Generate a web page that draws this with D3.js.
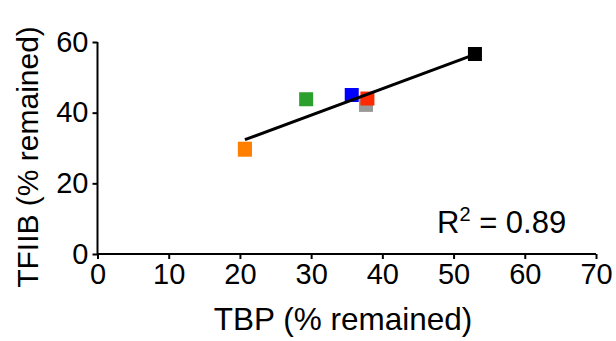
<!DOCTYPE html>
<html>
<head>
<meta charset="utf-8">
<script src="https://cdn.jsdelivr.net/npm/d3@7"></script>
<style>
html,body{margin:0;padding:0;background:#fff;}
svg text{font-family:"Liberation Sans",Arial,sans-serif;fill:#000;}
</style>
</head>
<body>
<svg id="chart" width="616" height="341"></svg>
<script>
const labels = ["orange","green","blue","gray","red","black"];
const tbp    = [20.7, 29.3, 35.7, 37.7, 37.9, 53.0];
const tfiib  = [29.8, 43.8, 45.0, 42.2, 44.0, 56.6];
const colors = ["#ff7f00","#2ca02c","#0000ff","#999999","#ff2a00","#000000"];
const xTicks = [0,10,20,30,40,50,60,70];
const yTicks = [0,20,40,60];
const r2Label = "0.89";

const svg = d3.select("#chart");
const x = d3.scaleLinear().domain([0,70]).range([97.5,596]);
const y = d3.scaleLinear().domain([0,60]).range([254,42]);

const xAxis = svg.append("g").attr("transform","translate(0,254)")
  .call(d3.axisBottom(x).tickValues(xTicks).tickSize(5).tickSizeOuter(0).tickPadding(4));
const yAxis = svg.append("g").attr("transform","translate(97.5,0)")
  .call(d3.axisLeft(y).tickValues(yTicks).tickSize(5).tickSizeOuter(0).tickPadding(4));
[xAxis,yAxis].forEach(a=>{
  a.selectAll("path,line").attr("stroke","#000").attr("stroke-width",2);
  a.selectAll("text").style("font-size","29px").attr("fill","#000");
});
xAxis.select(".domain").attr("d","M97.5,0H596");
yAxis.select(".domain").attr("d","M0,42V254");

// regression line computed from the data
const n = tbp.length;
const mx = d3.mean(tbp), my = d3.mean(tfiib);
let sxy=0,sxx=0;
for(let i=0;i<n;i++){sxy+=(tbp[i]-mx)*(tfiib[i]-my);sxx+=(tbp[i]-mx)**2;}
const b = sxy/sxx, a = my-b*mx;
const x0 = d3.min(tbp), x1 = d3.max(tbp);

const s = 14;
const pts = svg.append("g");
const order = [0,1,3,2,4];
order.forEach(i=>{
  pts.append("rect").attr("x",x(tbp[i])-s/2).attr("y",y(tfiib[i])-s/2)
    .attr("width",s).attr("height",s).attr("fill",colors[i]);
});
svg.append("line")
  .attr("x1",x(x0)).attr("y1",y(a+b*x0)).attr("x2",x(x1)).attr("y2",y(a+b*x1))
  .attr("stroke","#000").attr("stroke-width",3);
svg.append("rect").attr("x",x(tbp[5])-s/2).attr("y",y(tfiib[5])-s/2)
  .attr("width",s).attr("height",s).attr("fill",colors[5]);
svg.append("rect").attr("x",x(tbp[0])-s/2).attr("y",y(tfiib[0])-s/2+1)
  .attr("width",s).attr("height",s).attr("fill",colors[0]);

const t = svg.append("text").attr("x",437).attr("y",233).style("font-size","31px");
t.append("tspan").text("R");
t.append("tspan").attr("dy",-12).style("font-size","20px").text("2");
t.append("tspan").attr("dy",12).text(" = " + r2Label);

svg.append("text").attr("x",343).attr("y",330).attr("text-anchor","middle")
  .style("font-size","31.5px").text("TBP (% remained)");
svg.append("text").attr("transform","translate(38,157) rotate(-90)").attr("text-anchor","middle")
  .style("font-size","30px").text("TFIIB (% remained)");
</script>
</body>
</html>
